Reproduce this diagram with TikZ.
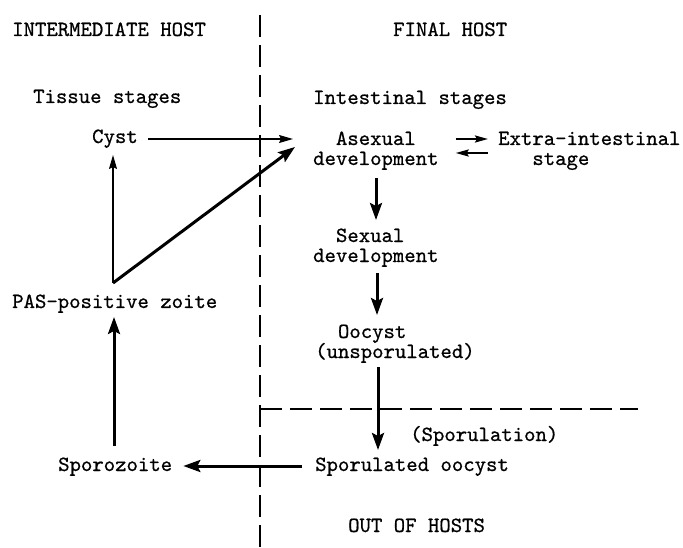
\documentclass[tikz,border=0pt]{standalone}
\usepackage{fontspec}
\usetikzlibrary{arrows.meta,calc}
\newfontfamily\twfont{lmmono10-regular.otf}[FakeBold=0.7]
\newcommand{\labfont}{\twfont\fontsize{21.7}{20}\selectfont\lineskiplimit=-50pt\lineskip=0pt}
\begin{document}
\begin{tikzpicture}[x=1pt,y=-1pt,
  lab/.style={font=\labfont, inner sep=0pt, anchor=base west, align=left},
  thinarrow/.style={line width=1.4pt, -{Stealth[length=14pt,width=8pt,inset=2pt]}},
  thickarrow/.style={line width=3pt, -{Stealth[length=17pt,width=12pt,inset=3pt]}},
  midarrow/.style={line width=2pt, -{Stealth[length=13pt,width=7pt,inset=2pt]}},
  divider/.style={line width=1.5pt, dash pattern=on 22pt off 8pt}]
\useasboundingbox (0,0) rectangle (683,548);
% labels (multi-line nodes: base = baseline of last line)
\node[lab] (ih) at (12,36) {INTERMEDIATE HOST};
\node[lab] (fh) at (393,36) {FINAL HOST};
\node[lab] (ts) at (33,103) {Tissue stages};
\node[lab] (is) at (313,104) {Intestinal stages};
\node[lab] (cyst) at (92,143) {Cyst};
\node[lab] (asex) at (313,165) {\phantom{xx}Asexual\\development};
\node[lab] (extra) at (498,165) {Extra-intestinal\\\phantom{xxx}stage};
\node[lab] (sex) at (313,262) {\phantom{xx}Sexual\\development};
\node[lab] (oo) at (315,358) {\phantom{xx}Oocyst\\(unsporulated)};
\node[lab] (sporl) at (410,441) {(Sporulation)};
\node[lab] (spo) at (315,471) {Sporulated oocyst};
\node[lab] (spz) at (58,471) {Sporozoite};
\node[lab] (pas) at (12,308) {PAS-positive zoite};
\node[lab] (out) at (348,532) {OUT OF HOSTS};
% dividers
\coordinate (vtop) at (260,15);
\coordinate (vbot) at (260,548);
\coordinate (hl) at (260,409);
\coordinate (hr) at (638,409);
\draw[divider] (vtop) -- (vbot);
\draw[divider] (hl) -- (hr);
% connectors
\coordinate (v) at ($(pas.base west)+(101,-25)$);
\draw[thinarrow] ($(cyst.base east)+(10,-4)$) -- ($(asex.base west)+(-20,-26)$);
\draw[thinarrow] (v) -- ($(cyst.base west)+(21,12)$);
\draw[thickarrow] (v) -- ($(asex.base west)+(-18,-18)$);
\draw[midarrow] ($(asex.base east)+(17,-26)$) -- ($(extra.base west)+(-10,-26)$);
\draw[midarrow] ($(extra.base west)+(-10,-12)$) -- ($(asex.base east)+(17,-12)$);
\draw[thickarrow] ($(asex.base west)+(63,13)$) -- ($(sex.base west)+(63,-42)$);
\draw[thickarrow] ($(sex.base west)+(64,11)$) -- ($(oo.base west)+(62,-43)$);
\draw[thickarrow] ($(oo.base west)+(63,9)$) -- ($(spo.base west)+(63,-21)$);
\draw[thickarrow] ($(spo.base west)+(-13,-5)$) -- ($(spz.base east)+(11,-5)$);
\draw[thickarrow] ($(spz.base west)+(56,-25)$) -- ($(pas.base west)+(102,9)$);
\end{tikzpicture}
\end{document}
